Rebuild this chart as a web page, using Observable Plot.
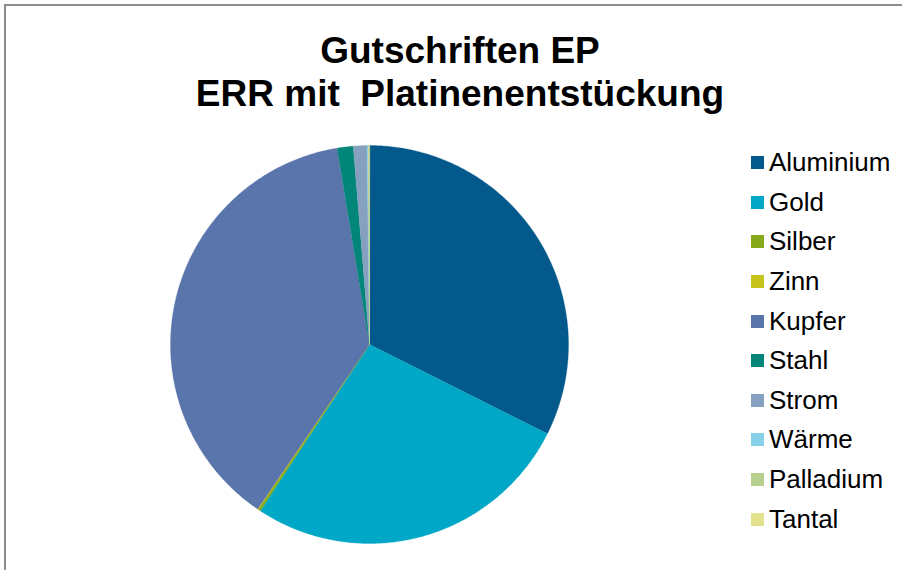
<!DOCTYPE html>
<html>
<head>
<meta charset="utf-8">
<script src="https://cdn.jsdelivr.net/npm/d3@7"></script>
<script src="https://cdn.jsdelivr.net/npm/@observablehq/plot@0.6"></script>
<style>
  html, body { margin: 0; padding: 0; background: #fff; overflow: hidden; }
  #wrap { position: relative; width: 902px; height: 570px; overflow: hidden; font-family: "Liberation Sans", Arial, sans-serif; }
  #frame { position: absolute; left: 4px; top: 4px; width: 1000px; height: 1000px; border: 2px solid #8c8c8c; box-sizing: border-box; }
  #title { position: absolute; left: 160px; width: 600px; top: 29px; text-align: center; font-weight: bold; font-size: 37px; line-height: 43px; color: #000; }
  #chart { position: absolute; left: 169px; top: 144px; }
  #legend { position: absolute; left: 751px; top: 143px; }
  .row { display: flex; align-items: center; height: 39.6px; }
  .sw { width: 13px; height: 13px; margin-right: 5px; }
  .lb { font-size: 26px; color: #000; }
</style>
</head>
<body>
<div id="wrap">
  <div id="frame"></div>
  <div id="title">Gutschriften EP<br>ERR mit&nbsp; Platinenentstückung</div>
  <div id="chart"></div>
  <div id="legend"></div>
</div>
<script>
const categories = ["Aluminium", "Gold", "Silber", "Zinn", "Kupfer", "Stahl", "Strom", "Wärme", "Palladium", "Tantal"];
const values = [32.4, 26.85, 0.2, 0.05, 37.9, 1.3, 1.1, 0.1, 0.05, 0.05];
const colors = ["#03598C", "#00A7C7", "#86A81B", "#C6C31B", "#5A75AB", "#028679", "#86A0C0", "#86D0E8", "#B8D08E", "#E3E28C"];

const arcs = d3.pie().sort(null).value((d, i) => values[i])(categories);
function slice(a, name) {
  const n = Math.max(2, Math.ceil((a.endAngle - a.startAngle) / 0.01));
  const pts = [[0, 0]];
  for (let k = 0; k <= n; k++) {
    const t = a.startAngle + (a.endAngle - a.startAngle) * k / n;
    pts.push([Math.sin(t), Math.cos(t)]);
  }
  pts.push([0, 0]);
  return { type: "Feature", properties: { name }, geometry: { type: "Polygon", coordinates: [pts] } };
}
const features = arcs.map((a, i) => slice(a, categories[i]));
const circle = [];
for (let k = 0; k <= 360; k++) { const t = k * Math.PI / 180; circle.push([Math.sin(t), Math.cos(t)]); }
const domain = { type: "Polygon", coordinates: [circle] };

const plot = Plot.plot({
  width: 400,
  height: 400,
  margin: 1,
  projection: { type: "reflect-y", domain },
  color: { domain: categories, range: colors },
  marks: [
    Plot.geo(features, { fill: d => d.properties.name, stroke: d => d.properties.name, strokeWidth: 0.3 })
  ]
});
document.getElementById("chart").appendChild(plot);

const color = plot.scale("color");
const leg = document.getElementById("legend");
categories.forEach((c, i) => {
  const row = document.createElement("div");
  row.className = "row";
  const sw = document.createElement("div");
  sw.className = "sw";
  sw.style.background = colors[color.domain.indexOf(c)];
  const lb = document.createElement("span");
  lb.className = "lb";
  lb.textContent = c;
  row.appendChild(sw);
  row.appendChild(lb);
  leg.appendChild(row);
});
</script>
</body>
</html>
